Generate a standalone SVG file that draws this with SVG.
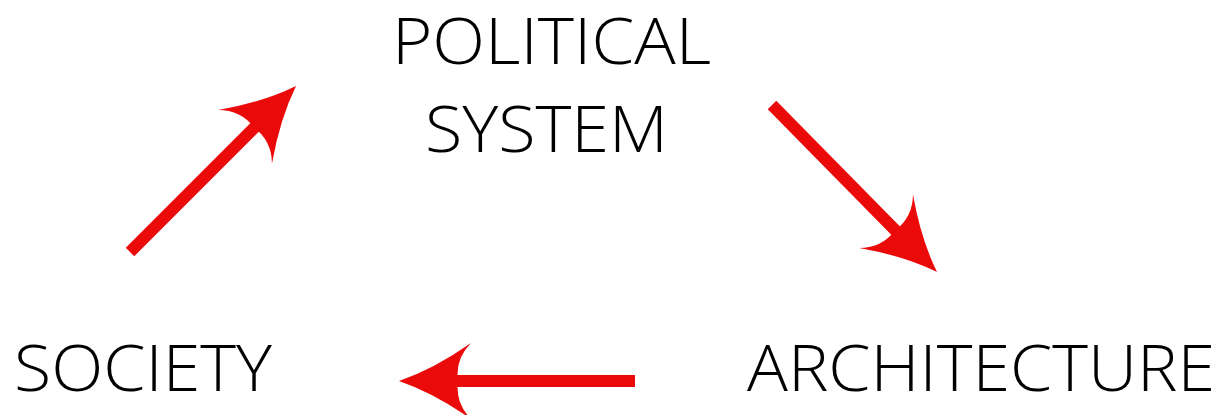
<svg xmlns="http://www.w3.org/2000/svg" width="1230" height="415" viewBox="0 0 1230 415">
  <style>
    .lbl { font-family: "Open Sans", "Liberation Sans", sans-serif; font-weight: 300; font-size: 65px; fill: #000; }
    .shaft { stroke: #EB0A0A; stroke-width: 12; fill: none; }
    .head { fill: #EB0A0A; }
  </style>
  <defs>
    <path id="ah" d="M0,0 Q-35,-12 -72,-38 Q-56,-22 -59,0 Q-56,22 -72,38 Q-35,12 0,0 Z"/>
  </defs>
  <rect width="1230" height="415" fill="#fff"/>
  <g id="node-political">
    <text class="lbl" x="392" y="63.5" textLength="319" lengthAdjust="spacingAndGlyphs">POLITICAL</text>
    <text class="lbl" x="425" y="151.5" textLength="243" lengthAdjust="spacingAndGlyphs">SYSTEM</text>
  </g>
  <g id="node-society">
    <text class="lbl" x="14" y="391" textLength="258" lengthAdjust="spacingAndGlyphs">SOCIETY</text>
  </g>
  <g id="node-architecture">
    <text class="lbl" x="747" y="391" textLength="468" lengthAdjust="spacingAndGlyphs">ARCHITECTURE</text>
  </g>
  <g id="connectors">
    <g id="c1">
      <line class="shaft" x1="130" y1="252" x2="256" y2="126"/>
      <use href="#ah" class="head" transform="translate(296,86) rotate(-45)"/>
    </g>
    <g id="c2">
      <line class="shaft" x1="772" y1="105" x2="896" y2="231"/>
      <use href="#ah" class="head" transform="translate(937,272) rotate(45)"/>
    </g>
    <g id="c3">
      <line class="shaft" x1="635" y1="381" x2="456" y2="381"/>
      <use href="#ah" class="head" transform="translate(399,381) rotate(180)"/>
    </g>
  </g>
</svg>
